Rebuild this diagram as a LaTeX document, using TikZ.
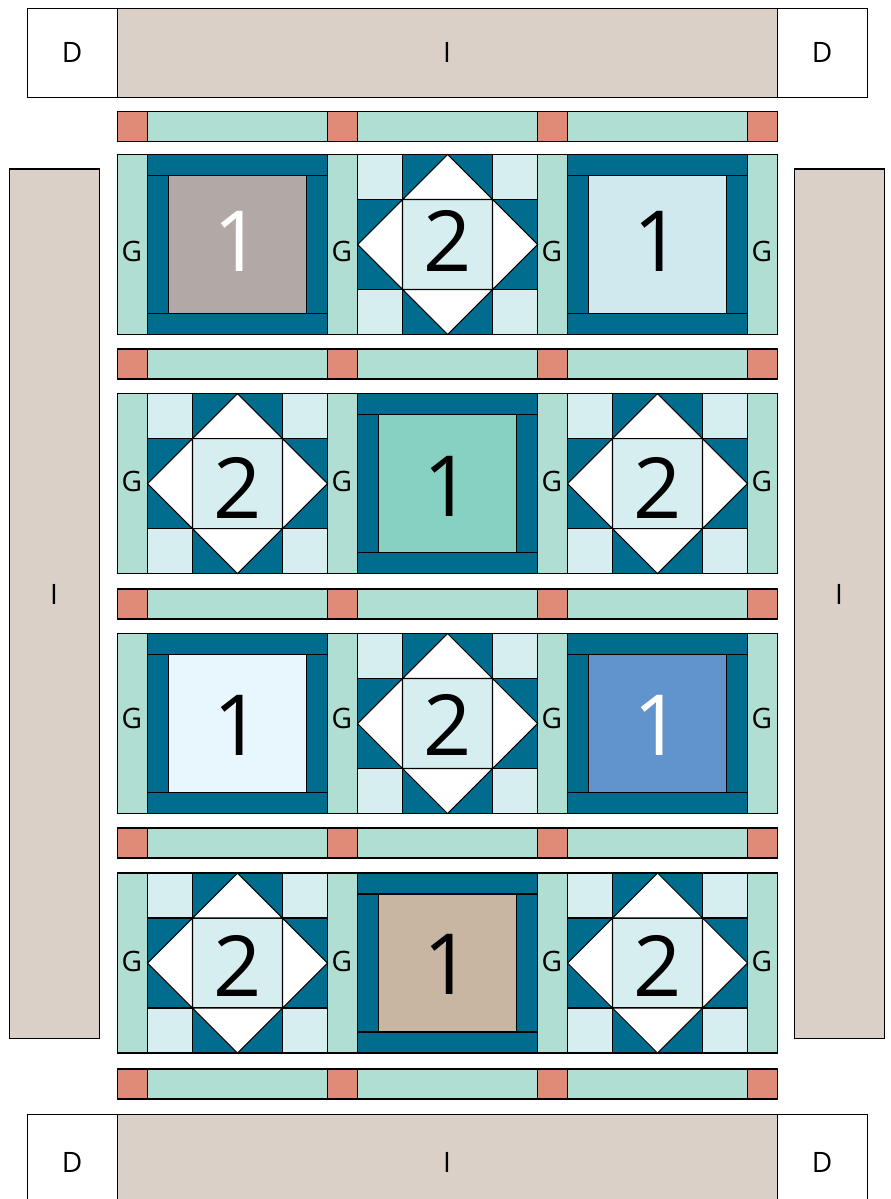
\documentclass[tikz,border=0pt]{standalone}
\usepackage{fontspec}
\setmainfont{Open Sans}
\definecolor{darkteal}{RGB}{0, 108, 142}
\definecolor{sashgreen}{RGB}{176, 222, 210}
\definecolor{postred}{RGB}{224, 139, 119}
\definecolor{bordertan}{RGB}{218, 208, 199}
\definecolor{palecyan}{RGB}{214, 238, 240}
\definecolor{fabgrey}{RGB}{178, 168, 166}
\definecolor{fabcyan}{RGB}{207, 233, 238}
\definecolor{fabteal}{RGB}{135, 209, 195}
\definecolor{fabpale}{RGB}{232, 246, 253}
\definecolor{fabblue}{RGB}{97, 147, 204}
\definecolor{fabtan}{RGB}{200, 182, 162}
\tikzset{
  patch/.style={draw=black, line width=0.6pt, line join=miter},
  letter/.style={font=\fontsize{16}{18}\selectfont},
  bignum/.style={font=\fontsize{48}{52}\selectfont}
}
\begin{document}
\begin{tikzpicture}[x=0.02cm, y=-0.02cm]
  \clip (0, 0) rectangle (890, 1199);

  % Top and bottom borders
  \foreach \y/\laby/\nm in {8.5/52/top, 1114.5/1162/bot} {
    \draw[patch, fill=white] (27.5, \y) rectangle ++(90, 89);
    \draw[patch, fill=bordertan] (117.5, \y) rectangle ++(660, 89);
    \draw[patch, fill=white] (777.5, \y) rectangle ++(90, 89);
    \node[letter] (D\nm l) at (72, \laby) {D};
    \node[letter] (I\nm) at (447, \laby) {I};
    \node[letter] (D\nm r) at (822, \laby) {D};
  }

  % Side borders
  \foreach \x/\labx/\nm in {9.5/54/left, 794.5/839/right} {
    \draw[patch, fill=bordertan] (\x, 169) rectangle ++(90, 869.5);
    \node[letter] (I\nm) at (\labx, 594) {I};
  }

  % Sashing rows
  \foreach \y in {111.5, 349, 589, 828, 1069} {
    \foreach \x in {117.5, 327.5, 537.5, 747.5}
      \draw[patch, fill=postred] (\x, \y) rectangle ++(30, 30);
    \foreach \x in {147.5, 357.5, 567.5}
      \draw[patch, fill=sashgreen] (\x, \y) rectangle ++(180, 30);
  }

  % Upright sashes
  \foreach \y/\laby in {154.5/251, 393.7/481, 633.5/718, 873/961} {
    \foreach \x in {117.5, 327.5, 537.5, 747.5} {
      \draw[patch, fill=sashgreen] (\x, \y) rectangle ++(30, 180);
      \node[letter] (G\x-\y) at (\x+14.3, \laby) {G};
    }
  }

  % Blocks 1
  \foreach \x/\y/\fab/\ink/\laby in {147.5/154.5/fabgrey/white/241, 567.5/154.5/fabcyan/black/241,
      357.5/393.7/fabteal/black/486.5, 147.5/633.5/fabpale/black/725,
      567.5/633.5/fabblue/white/725, 357.5/873/fabtan/black/964} {
    \begin{scope}[shift={(\x, \y)}]
      \draw[patch, fill=darkteal] (0, 0) rectangle (180, 180);
      \draw[patch] (0, 21) -- (180, 21) (0, 159) -- (180, 159);
      \draw[patch, fill=\fab] (21, 21) rectangle (159, 159);
    \end{scope}
    \node[bignum, text=\ink] (one\x-\y) at (\x+90, \laby) {1};
  }

  % Blocks 2
  \foreach \x/\y/\laby in {357.5/154.5/241, 147.5/393.7/488, 567.5/393.7/488,
      357.5/633.5/725, 147.5/873/966, 567.5/873/966} {
    \begin{scope}[shift={(\x, \y)}]
      \draw[patch, fill=palecyan] (0, 0) rectangle (180, 180);
      \draw[patch, fill=darkteal] (45, 0) rectangle (135, 45);
      \draw[patch, fill=darkteal] (45, 135) rectangle (135, 180);
      \draw[patch, fill=darkteal] (0, 45) rectangle (45, 135);
      \draw[patch, fill=darkteal] (135, 45) rectangle (180, 135);
      \draw[patch, fill=white] (45, 45) -- (90, 0) -- (135, 45) -- cycle;
      \draw[patch, fill=white] (45, 135) -- (90, 180) -- (135, 135) -- cycle;
      \draw[patch, fill=white] (45, 45) -- (0, 90) -- (45, 135) -- cycle;
      \draw[patch, fill=white] (135, 45) -- (180, 90) -- (135, 135) -- cycle;
    \end{scope}
    \node[bignum] (two\x-\y) at (\x+90, \laby) {2};
  }
\end{tikzpicture}
\end{document}
